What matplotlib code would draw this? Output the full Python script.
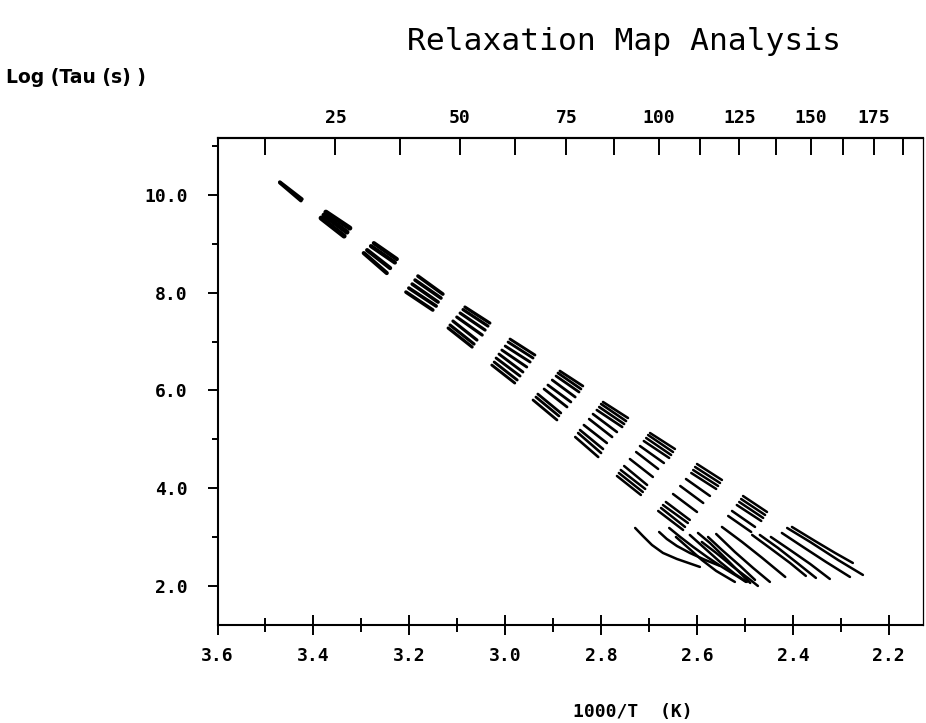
import matplotlib
matplotlib.use('Agg')
import matplotlib.pyplot as plt
import numpy as np
from matplotlib.ticker import MultipleLocator, FixedLocator, FormatStrFormatter


# segments (x0, y0, x1, y1) in 1000/T and log(tau), one list per group
band_a = [(3.470, 10.262, 3.424, 9.914), (3.470, 10.250, 3.426, 9.883)]
band_b = [(3.374, 9.648, 3.324, 9.321), (3.378, 9.587, 3.330, 9.239),
          (3.384, 9.526, 3.336, 9.158)]
band_c = [(3.274, 9.014, 3.226, 8.687), (3.280, 8.953, 3.230, 8.616),
          (3.288, 8.871, 3.240, 8.503), (3.295, 8.810, 3.247, 8.401)]
band_d = [(3.182, 8.340, 3.130, 7.971), (3.188, 8.258, 3.134, 7.890),
          (3.194, 8.176, 3.140, 7.808), (3.201, 8.094, 3.144, 7.726),
          (3.207, 8.012, 3.151, 7.645)]
band_e = [(3.084, 7.706, 3.032, 7.378), (3.088, 7.654, 3.036, 7.317),
          (3.094, 7.583, 3.042, 7.235), (3.101, 7.501, 3.048, 7.133),
          (3.109, 7.419, 3.059, 7.031), (3.115, 7.337, 3.065, 6.949),
          (3.119, 7.276, 3.069, 6.888)]
band_f = [(2.990, 7.051, 2.938, 6.724), (2.994, 6.990, 2.942, 6.663),
          (3.000, 6.908, 2.948, 6.581), (3.007, 6.826, 2.955, 6.479),
          (3.013, 6.744, 2.963, 6.376), (3.019, 6.663, 2.969, 6.294),
          (3.023, 6.581, 2.975, 6.213), (3.028, 6.519, 2.980, 6.151)]
band_g = [(2.886, 6.397, 2.838, 6.090), (2.890, 6.356, 2.842, 6.029),
          (2.894, 6.295, 2.846, 5.967), (2.902, 6.213, 2.854, 5.865),
          (2.911, 6.111, 2.863, 5.763), (2.919, 6.029, 2.871, 5.661),
          (2.932, 5.926, 2.884, 5.538), (2.936, 5.865, 2.888, 5.477),
          (2.942, 5.804, 2.892, 5.395)]
band_h = [(2.796, 5.763, 2.744, 5.436), (2.800, 5.722, 2.748, 5.374),
          (2.804, 5.661, 2.752, 5.313), (2.809, 5.599, 2.756, 5.252),
          (2.817, 5.517, 2.767, 5.149), (2.825, 5.415, 2.777, 5.047),
          (2.836, 5.292, 2.788, 4.924), (2.844, 5.190, 2.796, 4.802),
          (2.848, 5.129, 2.800, 4.720), (2.854, 5.047, 2.806, 4.638)]
band_i = [(2.698, 5.129, 2.646, 4.802), (2.702, 5.088, 2.650, 4.740),
          (2.706, 5.027, 2.654, 4.679), (2.711, 4.965, 2.658, 4.618),
          (2.719, 4.863, 2.669, 4.515), (2.727, 4.740, 2.681, 4.393),
          (2.740, 4.597, 2.692, 4.229), (2.752, 4.454, 2.704, 4.065),
          (2.759, 4.372, 2.708, 3.984), (2.763, 4.311, 2.713, 3.922),
          (2.767, 4.250, 2.717, 3.861)]
band_j = [(2.600, 4.495, 2.548, 4.168), (2.604, 4.434, 2.552, 4.106),
          (2.608, 4.372, 2.556, 4.045), (2.612, 4.311, 2.560, 3.984),
          (2.623, 4.188, 2.573, 3.841), (2.635, 4.045, 2.587, 3.697),
          (2.650, 3.881, 2.600, 3.513), (2.665, 3.718, 2.615, 3.350),
          (2.671, 3.656, 2.619, 3.288), (2.675, 3.595, 2.625, 3.207),
          (2.681, 3.534, 2.629, 3.145)]
band_k = [(2.504, 3.840, 2.454, 3.513), (2.508, 3.779, 2.458, 3.452),
          (2.512, 3.718, 2.462, 3.391), (2.517, 3.656, 2.466, 3.329),
          (2.527, 3.534, 2.479, 3.207), (2.535, 3.432, 2.487, 3.104)]

# long curved traces at the low end
tail_x = [
    [2.729, 2.713, 2.694, 2.671, 2.642, 2.594],
    [2.679, 2.663, 2.642, 2.615, 2.583, 2.552],
    [2.658, 2.635, 2.608, 2.579, 2.548, 2.514, 2.498],
    [2.644, 2.618, 2.590, 2.560, 2.521],
    [2.615, 2.587, 2.552, 2.521, 2.496],
    [2.598, 2.573, 2.537, 2.504, 2.489],
    [2.590, 2.560, 2.527, 2.494, 2.473],
    [2.577, 2.548, 2.510, 2.479],
    [2.560, 2.521, 2.483, 2.448],
    [2.548, 2.506, 2.464, 2.416],
    [2.485, 2.448, 2.406, 2.373],
    [2.469, 2.431, 2.391, 2.352],
    [2.446, 2.406, 2.364, 2.323],
    [2.423, 2.379, 2.331, 2.281],
    [2.412, 2.364, 2.306, 2.254],
    [2.402, 2.354, 2.312, 2.275],
]
tail_y = [
    [3.186, 3.023, 2.838, 2.675, 2.552, 2.389],
    [3.104, 2.961, 2.818, 2.675, 2.532, 2.409],
    [3.186, 3.002, 2.798, 2.593, 2.389, 2.184, 2.082],
    [3.002, 2.777, 2.532, 2.307, 2.082],
    [3.043, 2.798, 2.491, 2.245, 2.082],
    [3.084, 2.879, 2.532, 2.205, 2.061],
    [2.900, 2.675, 2.409, 2.164, 2.000],
    [3.002, 2.736, 2.409, 2.123],
    [3.063, 2.695, 2.368, 2.082],
    [3.207, 2.900, 2.573, 2.184],
    [3.043, 2.777, 2.470, 2.205],
    [3.043, 2.777, 2.470, 2.164],
    [3.002, 2.736, 2.450, 2.143],
    [3.084, 2.798, 2.491, 2.184],
    [3.186, 2.900, 2.532, 2.225],
    [3.207, 2.920, 2.675, 2.470],
]

# top axis: temperature in deg C
temp_ticks = [12.5, 25, 37.5, 50, 62.5, 75, 87.5, 100, 112.5, 125, 137.5,
              150, 162.5, 175, 187.5]

bands = [band_a, band_b, band_c, band_d, band_e, band_f, band_g, band_h,
         band_i, band_j, band_k]
band_lw = [2.6, 3.6, 3.0, 2.6, 2.3, 2.1, 2.0, 1.9, 1.8, 1.8, 1.8]

tick_font = dict(family='DejaVu Sans Mono', weight='bold', size=13)

fig = plt.figure(figsize=(9.26, 7.23), dpi=100)
ax = fig.add_axes([0.2349, 0.1355, 0.7619, 0.6740])

for band, lw in zip(bands, band_lw):
    for x0, y0, x1, y1 in band:
        ax.plot([x0, x1], [y0, y1], color='black', lw=lw,
                solid_capstyle='round')

for xs, ys in zip(tail_x, tail_y):
    ax.plot(xs, ys, color='black', lw=1.8, solid_capstyle='round',
            solid_joinstyle='round')

ax.set_xlim(3.6, 2.1286)
ax.set_ylim(1.2, 11.17)

ax.xaxis.set_major_locator(MultipleLocator(0.2))
ax.xaxis.set_minor_locator(MultipleLocator(0.1))
ax.xaxis.set_major_formatter(FormatStrFormatter('%.1f'))
ax.yaxis.set_major_locator(MultipleLocator(2.0))
ax.yaxis.set_minor_locator(MultipleLocator(1.0))
ax.yaxis.set_major_formatter(FormatStrFormatter('%.1f'))

ax.tick_params(axis='x', which='major', direction='inout', length=14,
               width=1.4, pad=9)
ax.tick_params(axis='x', which='minor', direction='inout', length=10,
               width=1.4)
ax.tick_params(axis='y', which='major', direction='out', length=7.5,
               width=1.4, pad=14)
ax.tick_params(axis='y', which='minor', direction='out', length=4.5,
               width=1.4)
for lab in ax.get_xticklabels() + ax.get_yticklabels():
    lab.set(**tick_font)

for side in ['left', 'bottom', 'top']:
    ax.spines[side].set_linewidth(1.5)
ax.spines['right'].set_linewidth(0.9)


def k_to_c(x):
    x = np.asarray(x, dtype=float)
    with np.errstate(divide='ignore', invalid='ignore'):
        return 1000.0 / x - 273.15


def c_to_k(c):
    c = np.asarray(c, dtype=float)
    with np.errstate(divide='ignore', invalid='ignore'):
        return 1000.0 / (c + 273.15)


top = ax.secondary_xaxis('top', functions=(k_to_c, c_to_k))
top.xaxis.set_major_locator(FixedLocator(temp_ticks))
top.set_xticklabels(['%d' % t if t % 25 == 0 else '' for t in temp_ticks])
top.tick_params(direction='in', length=12.5, width=1.4, pad=8)
top.spines['top'].set_linewidth(1.5)
for lab in top.get_xticklabels():
    lab.set(**tick_font)

fig.text(0.674, 0.943, 'Relaxation Map Analysis', ha='center', va='center',
         family='DejaVu Sans Mono', size=22.5)
fig.text(0.0065, 0.893, 'Log (Tau (s) )', ha='left', va='center',
         family='DejaVu Sans', weight='bold', size=13.5)
fig.text(0.6836, 0.0152, '1000/T  (K)', ha='center', va='center',
         family='DejaVu Sans Mono', weight='bold', size=13)

fig.savefig('out.png', dpi=100, facecolor='white')
